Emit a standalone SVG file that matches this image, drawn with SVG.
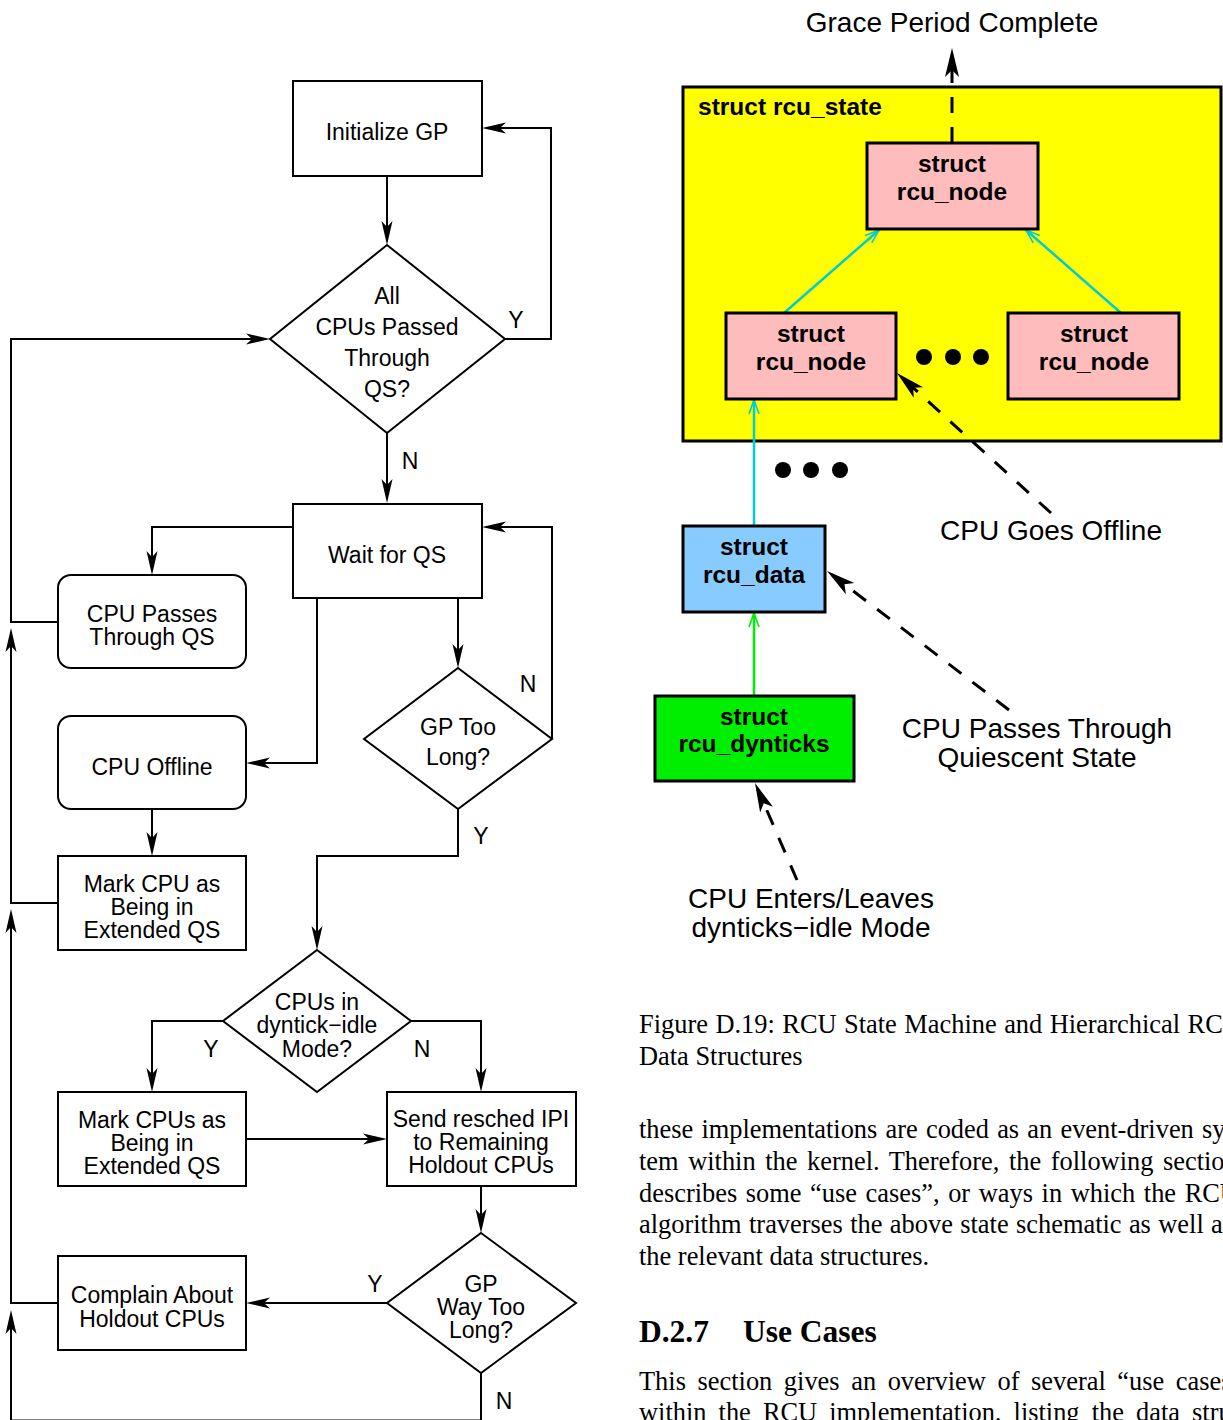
<svg xmlns="http://www.w3.org/2000/svg" width="1223" height="1420" viewBox="0 0 1223 1420">
<style>
.b{fill:#fff;stroke:#000;stroke-width:2}
.t{font-family:"Liberation Sans",Arial,Helvetica,sans-serif;font-size:23px;fill:#000;text-anchor:middle}
.c{fill:none;stroke:#000;stroke-width:2;marker-end:url(#ah)}
.s{stroke:#000;stroke-width:3}
.bt{font-family:"Liberation Sans",Arial,Helvetica,sans-serif;font-size:24.5px;font-weight:bold;fill:#000;text-anchor:middle}
.rt{font-family:"Liberation Sans",Arial,Helvetica,sans-serif;font-size:28px;fill:#000;text-anchor:middle}
.d{fill:none;stroke:#000;stroke-width:3;stroke-dasharray:16 14;marker-end:url(#ahd)}
.cy{fill:none;stroke:#00ccd6;stroke-width:2.5;marker-end:url(#ahc)}
.gr{fill:none;stroke:#00ee00;stroke-width:2.5;marker-end:url(#ahg)}
.sf{font-family:"Liberation Serif","Times New Roman",Times,serif;font-size:26.4px;fill:#000}
</style>
<defs>
<marker id="ah" markerUnits="userSpaceOnUse" orient="auto" refX="0" refY="0" markerWidth="30" markerHeight="14" overflow="visible"><path d="M4,0 L-20,-5.5 L-14,0 L-20,5.5 Z" fill="#000" stroke="none"/></marker>
<marker id="ahd" markerUnits="userSpaceOnUse" orient="auto" refX="0" refY="0" markerWidth="30" markerHeight="16" overflow="visible"><path d="M6,0 L-23,-7 L-16,0 L-23,7 Z" fill="#000" stroke="none"/></marker>
<marker id="ahc" markerUnits="userSpaceOnUse" orient="auto" refX="0" refY="0" markerWidth="16" markerHeight="12" overflow="visible"><path d="M-14,-5 L0,0 L-14,5" fill="none" stroke="#00ccd6" stroke-width="1.6"/></marker>
<marker id="ahg" markerUnits="userSpaceOnUse" orient="auto" refX="0" refY="0" markerWidth="16" markerHeight="12" overflow="visible"><path d="M-14,-5 L0,0 L-14,5" fill="none" stroke="#00ee00" stroke-width="1.6"/></marker>
</defs>

<g id="rcu_state">
<rect x="683" y="87" width="538" height="354" fill="#ffff00" class="s"/>
<text x="698" y="115" class="bt" style="text-anchor:start">struct rcu_state</text>
</g>

<g id="connectors">
<path class="c" d="M387,176 V241"/>
<path class="c" d="M505,339 H551 V128 H486"/>
<path class="c" d="M387,433 V499"/>
<path class="c" d="M481,1373 V1420.5 H11 V1314"/>
<path class="c" d="M58,1303 H11 V913"/>
<path class="c" d="M58,903 H11 V632"/>
<path class="c" d="M58,622 H11 V339 H266"/>
<path class="c" d="M293,527 H152 V571"/>
<path class="c" d="M317,598 V763 H250"/>
<path class="c" d="M458,598 V664"/>
<path class="c" d="M552,739 V527 H486"/>
<path class="c" d="M458,809 V856 H317 V946"/>
<path class="c" d="M152,809 V852"/>
<path class="c" d="M223,1021 H152 V1088"/>
<path class="c" d="M411,1021 H481 V1088"/>
<path class="c" d="M246,1139 H383"/>
<path class="c" d="M481,1186 V1229"/>
<path class="c" d="M387,1303 H250"/>
<path class="d" d="M952,143 V54"/>
<path class="cy" d="M784,313 L879,230"/>
<path class="cy" d="M1121,313 L1026,230"/>
<path class="cy" d="M754,526 V400"/>
<path class="gr" d="M754,696 V613"/>
<path class="d" d="M1051,513 L901.4,377"/>
<path class="d" d="M1009,710 L831.8,574.6"/>
<path class="d" d="M797,880 L757.4,788.5"/>
</g>

<g id="edge_labels" class="t">
<text x="516" y="328">Y</text>
<text x="410" y="469">N</text>
<text x="528" y="692">N</text>
<text x="481" y="844">Y</text>
<text x="211" y="1057">Y</text>
<text x="422" y="1057">N</text>
<text x="375" y="1292">Y</text>
<text x="504" y="1409">N</text>
</g>

<g id="n_init"><rect class="b" x="293" y="81" width="189" height="95"/><text class="t" x="387" y="140">Initialize GP</text></g>
<g id="n_allqs"><polygon class="b" points="387,245 505,339 387,433 270,339"/><text class="t" x="387" y="304">All</text><text class="t" x="387" y="335">CPUs Passed</text><text class="t" x="387" y="366">Through</text><text class="t" x="387" y="397">QS?</text></g>
<g id="n_wait"><rect class="b" x="293" y="504" width="189" height="94"/><text class="t" x="387" y="563">Wait for QS</text></g>
<g id="n_passes"><rect class="b" x="58" y="575" width="188" height="93" rx="13"/><text class="t" x="152" y="622">CPU Passes</text><text class="t" x="152" y="645">Through QS</text></g>
<g id="n_offline"><rect class="b" x="58" y="716" width="188" height="93" rx="13"/><text class="t" x="152" y="775">CPU Offline</text></g>
<g id="n_markcpu"><rect class="b" x="58" y="856" width="188" height="94"/><text class="t" x="152" y="892">Mark CPU as</text><text class="t" x="152" y="915">Being in</text><text class="t" x="152" y="938">Extended QS</text></g>
<g id="n_toolong"><polygon class="b" points="458,668 552,739 458,809 364,739"/><text class="t" x="458" y="735">GP Too</text><text class="t" x="458" y="765">Long?</text></g>
<g id="n_dyntick"><polygon class="b" points="317,950 411,1021 317,1092 223,1021"/><text class="t" x="317" y="1010">CPUs in</text><text class="t" x="317" y="1033">dyntick−idle</text><text class="t" x="317" y="1057">Mode?</text></g>
<g id="n_markcpus"><rect class="b" x="58" y="1092" width="188" height="94"/><text class="t" x="152" y="1128">Mark CPUs as</text><text class="t" x="152" y="1151">Being in</text><text class="t" x="152" y="1174">Extended QS</text></g>
<g id="n_send"><rect class="b" x="387" y="1092" width="189" height="94"/><text class="t" x="481" y="1127">Send resched IPI</text><text class="t" x="481" y="1150">to Remaining</text><text class="t" x="481" y="1173">Holdout CPUs</text></g>
<g id="n_waytoolong"><polygon class="b" points="481,1233 576,1303 481,1373 387,1303"/><text class="t" x="481" y="1292">GP</text><text class="t" x="481" y="1315">Way Too</text><text class="t" x="481" y="1338">Long?</text></g>
<g id="n_complain"><rect class="b" x="58" y="1256" width="188" height="94"/><text class="t" x="152" y="1303">Complain About</text><text class="t" x="152" y="1327">Holdout CPUs</text></g>

<g id="n_node_top"><rect class="s" x="867" y="143" width="171" height="86" fill="#ffbcbc"/><text class="bt" x="952" y="172">struct</text><text class="bt" x="952" y="200">rcu_node</text></g>
<g id="n_node_left"><rect class="s" x="726" y="313" width="170" height="86" fill="#ffbcbc"/><text class="bt" x="811" y="342">struct</text><text class="bt" x="811" y="370">rcu_node</text></g>
<g id="n_node_right"><rect class="s" x="1008" y="313" width="171" height="86" fill="#ffbcbc"/><text class="bt" x="1094" y="342">struct</text><text class="bt" x="1094" y="370">rcu_node</text></g>
<g id="dots_nodes"><circle cx="924" cy="357" r="8"/><circle cx="953" cy="357" r="8"/><circle cx="981" cy="357" r="8"/></g>
<g id="dots_data"><circle cx="783" cy="470" r="8"/><circle cx="811" cy="470" r="8"/><circle cx="840" cy="470" r="8"/></g>
<g id="n_data"><rect class="s" x="683" y="526" width="142" height="86" fill="#88ccff"/><text class="bt" x="754" y="555">struct</text><text class="bt" x="754" y="583">rcu_data</text></g>
<g id="n_dynticks"><rect class="s" x="655" y="696" width="199" height="85" fill="#00ee00"/><text class="bt" x="754" y="725">struct</text><text class="bt" x="754" y="752">rcu_dynticks</text></g>

<g id="l_grace"><text class="rt" x="952" y="32">Grace Period Complete</text></g>
<g id="l_offline"><text class="rt" x="1051" y="540">CPU Goes Offline</text></g>
<g id="l_qs"><text class="rt" x="1037" y="738">CPU Passes Through</text><text class="rt" x="1037" y="767">Quiescent State</text></g>
<g id="l_dyntick"><text class="rt" x="811" y="908">CPU Enters/Leaves</text><text class="rt" x="811" y="937">dynticks−idle Mode</text></g>

<g id="page_text" class="sf">
<text x="639" y="1033" word-spacing="0.9">Figure D.19: RCU State Machine and Hierarchical RCU</text>
<text x="639" y="1065">Data Structures</text>
<text x="639" y="1138" word-spacing="1.6">these implementations are coded as an event-driven sy</text>
<text x="639" y="1170" word-spacing="3">tem within the kernel. Therefore, the following sectio</text>
<text x="639" y="1202" word-spacing="2">describes some “use cases”, or ways in which the RCU</text>
<text x="639" y="1233" word-spacing="0.8">algorithm traverses the above state schematic as well a</text>
<text x="639" y="1265">the relevant data structures.</text>
<text x="639" y="1342" style="font-size:31.5px;font-weight:bold">D.2.7<tspan x="743">Use Cases</tspan></text>
<text x="639" y="1390" word-spacing="5">This section gives an overview of several “use cases</text>
<text x="639" y="1421" word-spacing="5.5">within the RCU implementation, listing the data stru</text>
</g>
</svg>
